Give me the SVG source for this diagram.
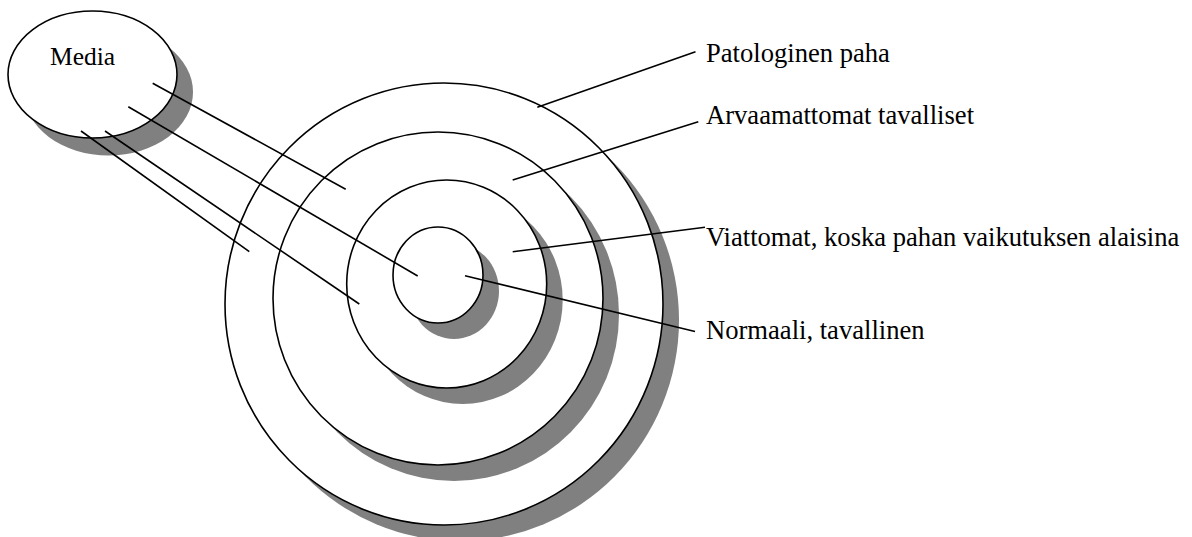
<svg xmlns="http://www.w3.org/2000/svg" width="1192" height="537" viewBox="0 0 1192 537">
<style>
.shadow{fill:#808080;stroke:none}
.shape{fill:#ffffff;stroke:#000000;stroke-width:1.6}
.conn line{stroke:#000000;stroke-width:1.6;fill:none}
text{font-family:"Liberation Serif","Times New Roman",serif;font-size:26.6px;fill:#000000}
</style>
<rect x="0" y="0" width="1192" height="537" fill="#ffffff"/>
<g id="ring-outer">
<ellipse class="shadow" cx="460" cy="320" rx="219" ry="221"/>
<ellipse class="shape" cx="444" cy="304" rx="219" ry="221"/>
</g>
<g id="ring-second">
<ellipse class="shadow" cx="454" cy="314.5" rx="165" ry="166.5"/>
<ellipse class="shape" cx="438" cy="298.5" rx="165" ry="166.5"/>
</g>
<g id="ring-third">
<ellipse class="shadow" cx="462.7" cy="300" rx="100" ry="104"/>
<ellipse class="shape" cx="446.7" cy="284" rx="100" ry="104"/>
</g>
<g id="ring-inner">
<ellipse class="shadow" cx="454" cy="291" rx="45" ry="48"/>
<ellipse class="shape" cx="438" cy="275" rx="45" ry="48"/>
</g>
<g id="media">
<ellipse class="shadow" cx="108.5" cy="92" rx="84.5" ry="63.5"/>
<ellipse class="shape" cx="92.5" cy="74.5" rx="84.5" ry="63.5"/>
<text x="50" y="65" style="font-size:25.5px">Media</text>
</g>
<g id="connectors" class="conn">
<line x1="152.7" y1="83.3" x2="345.7" y2="189.3"/>
<line x1="128.3" y1="106.7" x2="417.7" y2="276"/>
<line x1="105" y1="131" x2="359.3" y2="304"/>
<line x1="81" y1="131" x2="249.3" y2="251.7"/>
<line x1="537.3" y1="107.3" x2="695.5" y2="51.7"/>
<line x1="512.7" y1="180" x2="698.3" y2="121.7"/>
<line x1="512.7" y1="251.7" x2="705" y2="227.3"/>
<line x1="465" y1="275.7" x2="695" y2="331.5"/>
</g>
<g id="label-patologinen"><text x="706" y="62">Patologinen paha</text></g>
<g id="label-arvaamattomat"><text x="706" y="124">Arvaamattomat tavalliset</text></g>
<g id="label-viattomat"><text x="706" y="246">Viattomat, koska pahan vaikutuksen alaisina</text></g>
<g id="label-normaali"><text x="706" y="339">Normaali, tavallinen</text></g>
</svg>
